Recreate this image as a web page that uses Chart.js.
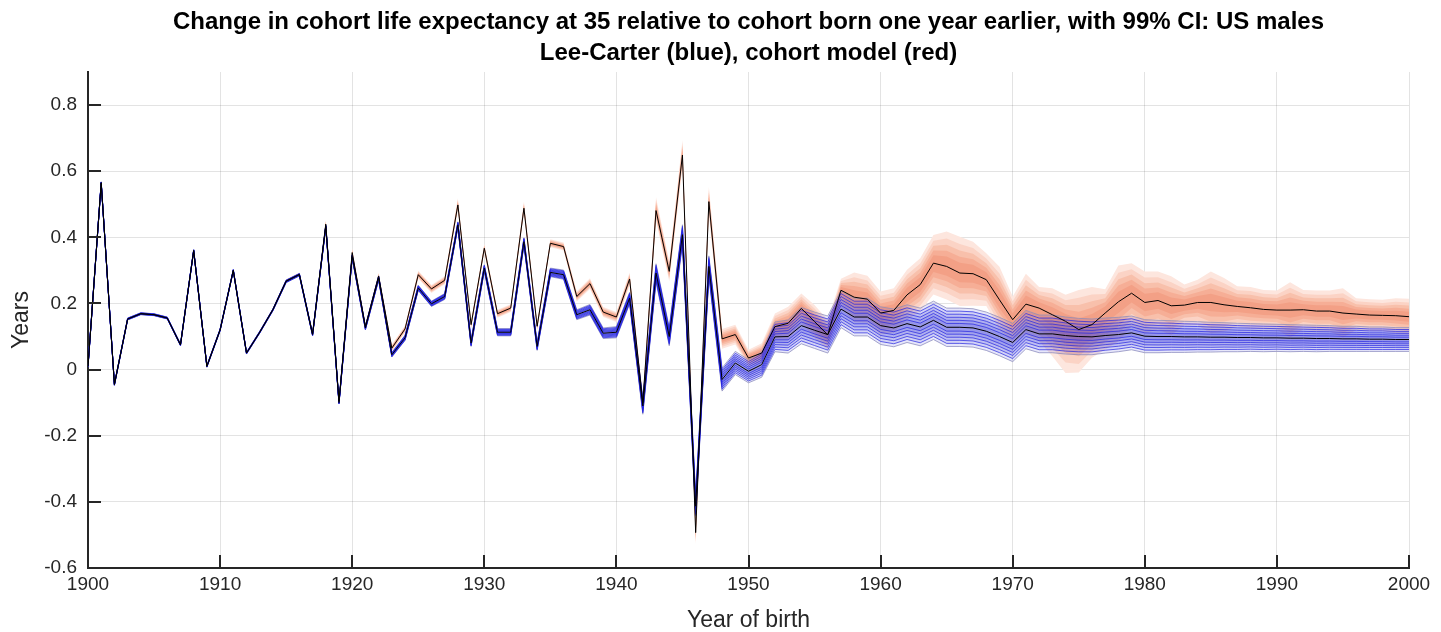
<!DOCTYPE html>
<html>
<head>
<meta charset="utf-8">
<script src="https://cdn.jsdelivr.net/npm/chart.js@4.4.1/dist/chart.umd.min.js"></script>
<style>
  html, body { margin: 0; padding: 0; background: #fff; }
  #wrap { width: 1441px; height: 632px; }
</style>
</head>
<body>
<div id="wrap"><canvas id="chart" width="1441" height="632"></canvas></div>
<script>
// ---------- DATA ----------
// Year of birth, 1900..2000
const years = Array.from({ length: 101 }, (_, i) => 1900 + i);

// Lee-Carter (blue): median change and 99% half-width
const lcMid = [
  0.01, 0.565, -0.045, 0.153, 0.169, 0.166, 0.156, 0.075, 0.36, 0.01,
  0.12, 0.30, 0.05, 0.113, 0.181, 0.267, 0.287, 0.106, 0.433, -0.1,
  0.342, 0.126, 0.277, 0.045, 0.096, 0.247, 0.199, 0.221, 0.438, 0.08,
  0.307, 0.113, 0.113, 0.387, 0.07, 0.294, 0.287, 0.166, 0.181, 0.11,
  0.113, 0.216, -0.11, 0.292, 0.10, 0.408, -0.413, 0.312, -0.03, 0.02,
  -0.005, 0.015, 0.099, 0.10, 0.133, 0.119, 0.106, 0.183, 0.159, 0.159,
  0.133, 0.126, 0.139, 0.129, 0.149, 0.128, 0.128, 0.126, 0.116, 0.10,
  0.082, 0.121, 0.108, 0.108, 0.103, 0.10, 0.099, 0.103, 0.106, 0.111,
  0.101, 0.100, 0.100, 0.099, 0.099, 0.098, 0.098, 0.097, 0.097, 0.096,
  0.096, 0.095, 0.095, 0.094, 0.094, 0.093, 0.093, 0.092, 0.092, 0.091,
  0.091
];
const lcHalf = [
  0.003, 0.003, 0.003, 0.003, 0.003, 0.003, 0.003, 0.003, 0.003, 0.003,
  0.003, 0.003, 0.003, 0.003, 0.003, 0.004, 0.004, 0.004, 0.004, 0.004,
  0.006, 0.006, 0.007, 0.007, 0.008, 0.008, 0.008, 0.009, 0.009, 0.010,
  0.010, 0.011, 0.011, 0.012, 0.012, 0.013, 0.014, 0.015, 0.016, 0.016,
  0.017, 0.018, 0.025, 0.028, 0.028, 0.030, 0.030, 0.032, 0.035, 0.035,
  0.035, 0.038, 0.045, 0.050, 0.055, 0.055, 0.056, 0.056, 0.057, 0.057,
  0.057, 0.057, 0.057, 0.057, 0.058, 0.058, 0.058, 0.058, 0.058, 0.058,
  0.058, 0.058, 0.057, 0.057, 0.056, 0.055, 0.054, 0.053, 0.052, 0.051,
  0.050, 0.049, 0.048, 0.047, 0.046, 0.045, 0.044, 0.043, 0.042, 0.042,
  0.041, 0.041, 0.040, 0.040, 0.039, 0.038, 0.038, 0.037, 0.037, 0.036,
  0.036
];

// Cohort model (red): median change, 99% distance above and below
const cmMid = [
  0.01, 0.565, -0.045, 0.153, 0.169, 0.166, 0.156, 0.075, 0.36, 0.01,
  0.12, 0.30, 0.05, 0.113, 0.182, 0.268, 0.288, 0.107, 0.44, -0.095,
  0.354, 0.13, 0.283, 0.065, 0.123, 0.287, 0.244, 0.27, 0.498, 0.136,
  0.367, 0.169, 0.186, 0.488, 0.131, 0.382, 0.372, 0.221, 0.26, 0.174,
  0.159, 0.274, -0.1, 0.481, 0.297, 0.649, -0.493, 0.508, 0.093, 0.106,
  0.035, 0.05, 0.13, 0.14, 0.185, 0.145, 0.105, 0.24, 0.219, 0.213,
  0.171, 0.179, 0.226, 0.257, 0.322, 0.312, 0.292, 0.29, 0.272, 0.211,
  0.151, 0.198, 0.186, 0.166, 0.146, 0.121, 0.136, 0.171, 0.205, 0.231,
  0.203, 0.209, 0.193, 0.195, 0.203, 0.203, 0.196, 0.191, 0.187, 0.182,
  0.18, 0.18, 0.181, 0.177, 0.177, 0.171, 0.168, 0.165, 0.164, 0.163,
  0.16
];
const cmUp = [
  0.003, 0.003, 0.003, 0.003, 0.003, 0.003, 0.003, 0.003, 0.003, 0.003,
  0.003, 0.003, 0.003, 0.004, 0.004, 0.005, 0.005, 0.006, 0.012, 0.008,
  0.012, 0.008, 0.010, 0.010, 0.010, 0.012, 0.012, 0.012, 0.020, 0.012,
  0.013, 0.012, 0.012, 0.020, 0.013, 0.012, 0.012, 0.015, 0.016, 0.015,
  0.015, 0.020, 0.020, 0.040, 0.030, 0.045, 0.025, 0.045, 0.030, 0.030,
  0.025, 0.030, 0.040, 0.050, 0.045, 0.050, 0.045, 0.035, 0.075, 0.071,
  0.065, 0.067, 0.076, 0.080, 0.085, 0.106, 0.110, 0.097, 0.080, 0.100,
  0.070, 0.092, 0.064, 0.080, 0.080, 0.120, 0.114, 0.072, 0.110, 0.091,
  0.094, 0.088, 0.089, 0.062, 0.069, 0.094, 0.081, 0.061, 0.063, 0.059,
  0.059, 0.084, 0.060, 0.062, 0.062, 0.075, 0.048, 0.048, 0.047, 0.053,
  0.054
];
const cmDown = [
  0.003, 0.003, 0.003, 0.003, 0.003, 0.003, 0.003, 0.003, 0.003, 0.003,
  0.003, 0.003, 0.003, 0.004, 0.004, 0.005, 0.005, 0.006, 0.008, 0.008,
  0.010, 0.008, 0.010, 0.010, 0.010, 0.012, 0.012, 0.012, 0.015, 0.012,
  0.013, 0.012, 0.012, 0.015, 0.013, 0.012, 0.012, 0.015, 0.016, 0.015,
  0.015, 0.020, 0.025, 0.030, 0.030, 0.035, 0.035, 0.035, 0.030, 0.030,
  0.025, 0.030, 0.040, 0.050, 0.045, 0.050, 0.045, 0.050, 0.075, 0.071,
  0.065, 0.067, 0.076, 0.080, 0.095, 0.100, 0.100, 0.097, 0.080, 0.090,
  0.070, 0.090, 0.100, 0.126, 0.156, 0.130, 0.100, 0.110, 0.120, 0.100,
  0.094, 0.088, 0.089, 0.062, 0.069, 0.094, 0.081, 0.061, 0.063, 0.059,
  0.059, 0.084, 0.060, 0.062, 0.062, 0.075, 0.048, 0.048, 0.047, 0.053,
  0.054
];

const yTicks = [-0.6, -0.4, -0.2, 0, 0.2, 0.4, 0.6, 0.8];

const titleLines = [
  "Change in cohort life expectancy at 35 relative to cohort born one year earlier, with 99% CI: US males",
  "Lee-Carter (blue), cohort model (red)"
];

// ---------- FAN BANDS ----------
// Nested quantile bands, outermost = 99%.
const redFracs = [1, 0.8, 0.62, 0.45, 0.28];
const redFills = ["#fde6de", "#fbd3c5", "#f8c0ab", "#f6ae96", "#f3a086"];
const blueFracs = [1, 0.84, 0.68, 0.52, 0.36, 0.2];

const FONT = "'Liberation Sans', Arial, Helvetica, sans-serif";
const INK = "#262626";

function pts(arr) {
  return years.map((x, i) => ({ x, y: arr[i] }));
}

const datasets = [];

redFracs.forEach((f, k) => {
  const hi = cmMid.map((m, i) => m + f * cmUp[i]);
  const lo = cmMid.map((m, i) => m - f * cmDown[i]);
  datasets.push({ data: pts(hi), fill: "+1", backgroundColor: redFills[k],
    borderColor: "transparent", borderWidth: 0, order: 100 - k });
  datasets.push({ data: pts(lo), fill: false,
    borderColor: "transparent", borderWidth: 0, order: 100 - k });
});

blueFracs.forEach((f, k) => {
  const hi = lcMid.map((m, i) => m + f * lcHalf[i]);
  const lo = lcMid.map((m, i) => m - f * lcHalf[i]);
  const edge = k === 0 ? "rgba(140,140,185,0.75)" : "rgba(35,35,225,0.7)";
  datasets.push({ data: pts(hi), fill: "+1", backgroundColor: "rgba(70,70,220,0.13)",
    borderColor: edge, borderWidth: 1, order: 50 - k });
  datasets.push({ data: pts(lo), fill: false,
    borderColor: edge, borderWidth: 1, order: 50 - k });
});

// median lines
datasets.push({ data: pts(cmMid), fill: false, borderColor: "#000", borderWidth: 1, order: 1 });
datasets.push({ data: pts(lcMid), fill: false, borderColor: "#000", borderWidth: 1, order: 0 });

// MATLAB-style ticks that point into the axes
const insideTicks = {
  id: "insideTicks",
  afterDraw(chart) {
    const { ctx, chartArea: a, scales: { x, y } } = chart;
    ctx.save();
    ctx.strokeStyle = INK;
    ctx.lineWidth = 2;
    ctx.beginPath();
    for (const v of yTicks) {
      const py = Math.round(y.getPixelForValue(v));
      ctx.moveTo(a.left, py); ctx.lineTo(a.left + 13, py);
    }
    for (const t of x.ticks) {
      const px = Math.round(x.getPixelForValue(t.value));
      ctx.moveTo(px, a.bottom); ctx.lineTo(px, a.bottom - 13);
    }
    ctx.stroke();
    ctx.restore();
  }
};

new Chart(document.getElementById("chart"), {
  type: "line",
  data: { datasets },
  plugins: [insideTicks],
  options: {
    responsive: false,
    animation: false,
    events: [],
    layout: { padding: { left: 0, right: 32, top: 0, bottom: 0 } },
    elements: { point: { radius: 0 }, line: { tension: 0 } },
    plugins: {
      legend: { display: false },
      tooltip: { enabled: false },
      title: {
        display: true,
        fullSize: false,
        text: titleLines,
        color: "#000",
        font: { family: FONT, size: 24, weight: "bold", lineHeight: 31 / 24 },
        padding: { top: 7, bottom: 3 }
      },
      filler: { propagate: false }
    },
    scales: {
      x: {
        type: "linear",
        min: 1900,
        max: 2000,
        afterFit: s => { s.height = 64; },
        ticks: { stepSize: 10, color: INK, padding: 5,
          font: { family: FONT, size: 19 }, callback: v => String(v) },
        grid: { color: "rgba(38,38,38,0.13)", drawTicks: false },
        border: { color: INK, width: 2 },
        title: { display: true, text: "Year of birth", color: INK,
          font: { family: FONT, size: 23, lineHeight: 1 }, padding: { top: 0, bottom: 0 } }
      },
      y: {
        min: -0.6,
        max: 0.9,
        afterFit: s => { s.width = 88; },
        afterBuildTicks: s => { s.ticks = yTicks.map(v => ({ value: v })); },
        ticks: { color: INK, padding: 11, font: { family: FONT, size: 19 },
          callback: v => String(Math.round(v * 10) / 10) },
        grid: { color: "rgba(38,38,38,0.13)", drawTicks: false },
        border: { color: INK, width: 2 },
        title: { display: true, text: "Years", color: INK,
          font: { family: FONT, size: 23 }, padding: { top: 8, bottom: 0 } }
      }
    }
  }
});
</script>
</body>
</html>
